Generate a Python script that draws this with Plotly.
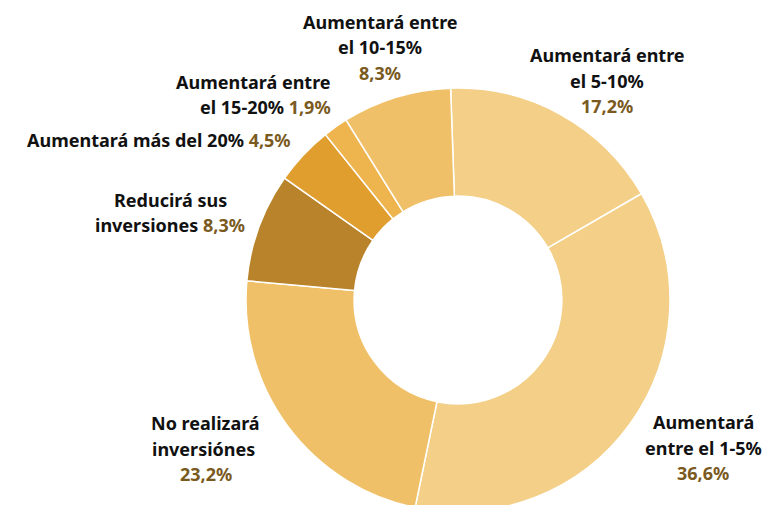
import plotly.graph_objects as go

labels = ["Aumentará entre el 5-10%", "Aumentará entre el 1-5%", "No realizará inversiónes",
          "Reducirá sus inversiones", "Aumentará más del 20%", "Aumentará entre el 15-20%",
          "Aumentará entre el 10-15%"]
values = [17.2, 36.6, 23.2, 8.3, 4.5, 1.9, 8.3]
colors = ["#F3CF87", "#F3CF87", "#F0C068", "#B8832A", "#E09E2F", "#EEB44E", "#F0C068"]

# lineas de cada etiqueta; "{p}" = porcentaje
label_lines = [
    ["Aumentará entre", "el 5-10%", "{p}"],
    ["Aumentará", "entre el 1-5%", "{p}"],
    ["No realizará", "inversiónes ", "{p}"],
    ["Reducirá sus", "inversiones {p}"],
    ["Aumentará más del 20% {p}"],
    ["Aumentará entre", "el 15-20% {p}"],
    ["Aumentará entre", "el 10-15%", "{p}"],
]

W, H = 771, 505
OFF = 8  # margen del body en la pagina
cx, cy, R = 458 - OFF, 300 - OFF, 212
pct_color = "#7A5A1E"

# (x, y primera linea, alineacion) en pixeles de ventana
lbl_pos = [(607, 54, "center"), (703, 421, "center"), (206, 422, "center"),
           (170, 199, "center"), (293, 139, "right"), (333, 81, "right"), (380, 21, "center")]
line_gap = 25.5

fig = go.Figure(go.Pie(
    labels=labels, values=values, sort=False, direction="clockwise", rotation=-2,
    hole=0.49, textinfo="none", hoverinfo="label+percent",
    marker=dict(colors=colors, line=dict(color="white", width=1.5)),
    domain=dict(x=[(cx - R) / W, (cx + R) / W], y=[max(0, (H - cy - R) / H), (H - cy + R) / H]),
    showlegend=False,
))

for lines, v, (x, y, al) in zip(label_lines, values, lbl_pos):
    pct = f"<span style='color:{pct_color}'>{v:.1f}%</span>".replace(".", ",")
    for k, ln in enumerate(lines):
        yy = y + k * line_gap + 1
        fig.add_annotation(
            text="<b>" + ln.replace("{p}", pct) + "</b>",
            x=(x - OFF) / W, y=1 - (yy - OFF) / H, xref="paper", yref="paper",
            xanchor=al, yanchor="middle", showarrow=False,
            font=dict(family="Noto Sans", size=18, color="#111111"),
        )

fig.update_layout(
    width=W, height=H, margin=dict(l=0, r=0, t=0, b=0),
    paper_bgcolor="white", plot_bgcolor="white",
)

fig.write_html("out.html")
